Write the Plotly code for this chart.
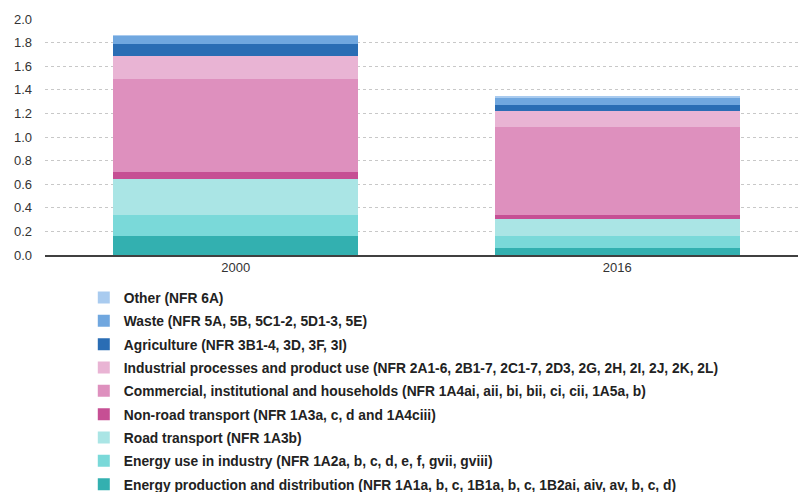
import plotly.graph_objects as go

years = ["2000", "2016"]

sectors = [
    "Energy production and distribution (NFR 1A1a, b, c, 1B1a, b, c, 1B2ai, aiv, av, b, c, d)",
    "Energy use in industry (NFR 1A2a, b, c, d, e, f, gvii, gviii)",
    "Road transport (NFR 1A3b)",
    "Non-road transport (NFR 1A3a, c, d and 1A4ciii)",
    "Commercial, institutional and households (NFR 1A4ai, aii, bi, bii, ci, cii, 1A5a, b)",
    "Industrial processes and product use (NFR 2A1-6, 2B1-7, 2C1-7, 2D3, 2G, 2H, 2I, 2J, 2K, 2L)",
    "Agriculture (NFR 3B1-4, 3D, 3F, 3I)",
    "Waste (NFR 5A, 5B, 5C1-2, 5D1-3, 5E)",
    "Other (NFR 6A)",
]

energy_production = [0.161, 0.059]
energy_industry = [0.181, 0.102]
road_transport = [0.305, 0.147]
non_road_transport = [0.053, 0.031]
commercial_households = [0.790, 0.743]
industrial_processes = [0.200, 0.136]
agriculture = [0.095, 0.053]
waste = [0.072, 0.067]
other = [0.006, 0.005]

series = [
    energy_production,
    energy_industry,
    road_transport,
    non_road_transport,
    commercial_households,
    industrial_processes,
    agriculture,
    waste,
    other,
]

colors = [
    "#33b0b0",
    "#7ad9d9",
    "#aae5e5",
    "#c64f94",
    "#de90be",
    "#e9b4d4",
    "#2a6db4",
    "#70a7df",
    "#a9cbef",
]

fig = go.Figure()
n = len(sectors)
for i, (name, vals, col) in enumerate(zip(sectors, series, colors)):
    fig.add_trace(go.Bar(
        x=years,
        y=vals,
        name=name,
        marker=dict(color=col, line=dict(width=0)),
        legendgroup=name,
        legendrank=n - i,
    ))

fig.update_layout(
    barmode="stack",
    bargap=0.358,
    width=798,
    height=492,
    margin=dict(l=45, r=0, t=19, b=237, autoexpand=False),
    paper_bgcolor="white",
    plot_bgcolor="white",
    font=dict(family="Liberation Sans, Arial, sans-serif", size=13, color="#333333"),
    showlegend=True,
    legend=dict(
        orientation="v",
        traceorder="grouped",
        tracegroupgap=2.4,
        xref="container",
        yref="container",
        x=0.105,
        xanchor="left",
        y=0.4268,
        yanchor="top",
        font=dict(size=13.8, color="#222222", weight="bold"),
        itemwidth=30,
        bgcolor="rgba(0,0,0,0)",
    ),
)

fig.update_xaxes(
    type="category",
    range=[-0.5, 1.474],
    showgrid=False,
    showline=True,
    linecolor="#404040",
    linewidth=1.5,
    ticks="",
    automargin=False,
    tickfont=dict(size=13, color="#333333"),
)

fig.update_yaxes(
    range=[0, 2.0],
    dtick=0.2,
    tickformat=".1f",
    showgrid=True,
    gridcolor="#c8c8c8",
    griddash="dot",
    gridwidth=1,
    zeroline=False,
    showline=False,
    ticks="",
    automargin=False,
    ticklabelstandoff=12,
    tickfont=dict(size=13, color="#333333"),
)

# drop the default body margin so the figure sits at the page corner
fig.write_html(
    "out.html",
    config={"displayModeBar": False},
    post_script="document.body.style.margin='0';",
)
